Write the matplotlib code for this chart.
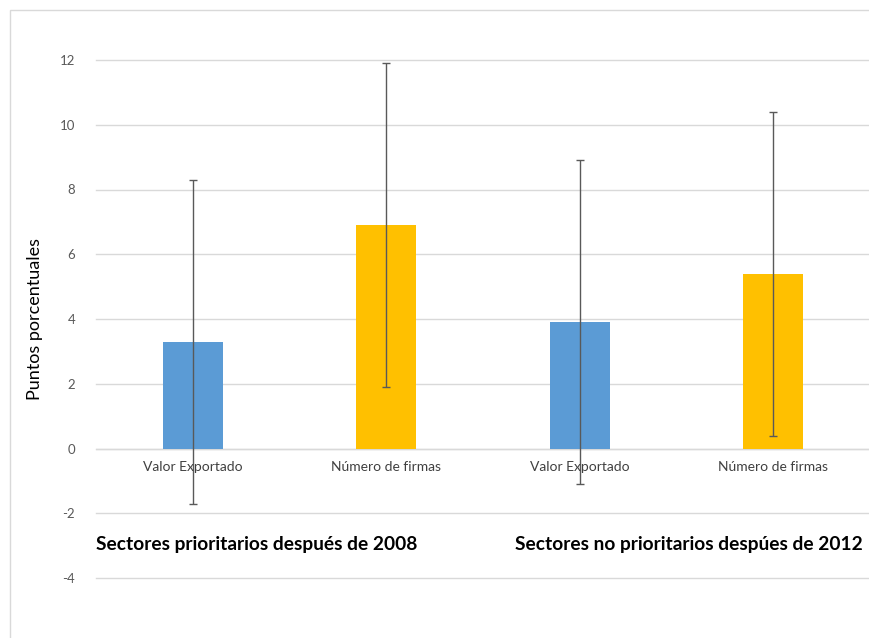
import matplotlib
matplotlib.use("Agg")
import matplotlib.pyplot as plt
from matplotlib.patches import Rectangle

categories = ["Valor Exportado", "Número de firmas", "Valor Exportado", "Número de firmas"]
values = [3.3, 6.9, 3.9, 5.4]
errors = [5.0, 5.0, 5.0, 5.0]
colors = ["#5B9BD5", "#FFC000", "#5B9BD5", "#FFC000"]
groups = ["Sectores prioritarios después de 2008", "Sectores no prioritarios despúes de 2012"]
yticks = [-4, -2, 0, 2, 4, 6, 8, 10, 12]

plt.rcParams['font.family'] = ['Lato', 'DejaVu Sans']

fig = plt.figure(figsize=(8.69, 6.38), dpi=100)
fig.patches.append(Rectangle((10/869, -0.1), 1.2, 1 - 10/638 + 0.1, transform=fig.transFigure,
                             fill=False, edgecolor="#D9D9D9", linewidth=1))
ax = fig.add_axes([96/869, 1 - 578/638, 774/869, (578 - 60)/638])

x = list(range(len(categories)))
ax.bar(x, values, width=0.31, color=colors, zorder=2)
ax.errorbar(x, values, yerr=errors, fmt="none", ecolor="#595959", elinewidth=1,
            capsize=3, capthick=1, zorder=3)

ax.set_xlim(-0.5, 3.5)
ax.set_ylim(-4, 12)
ax.set_yticks(yticks)
ax.set_yticklabels([str(t) for t in yticks], color="#595959", fontsize=9.5)
ax.tick_params(axis="y", length=0, pad=15)
ax.set_xticks([])
ax.grid(axis="y", color="#D9D9D9", linewidth=1, zorder=0)
for gl in ax.get_ygridlines():
    gl.set_clip_on(False)
for s in ax.spines.values():
    s.set_visible(False)
ax.axhline(0, color="#D9D9D9", linewidth=1, zorder=1)

for xi, lab in zip(x, categories):
    ax.text(xi, -0.57, lab, ha="center", va="center", fontsize=10, color="#404040")

ax.text(-0.5, -2.95, groups[0], ha="left", va="center", fontsize=13.8, fontweight="bold", color="black")
ax.text(3.46, -2.95, groups[1], ha="right", va="center", fontsize=13.8, fontweight="bold", color="black")

ax.set_ylabel("Puntos porcentuales", fontsize=13, color="black", labelpad=12)

fig.savefig("out.png", dpi=100)
